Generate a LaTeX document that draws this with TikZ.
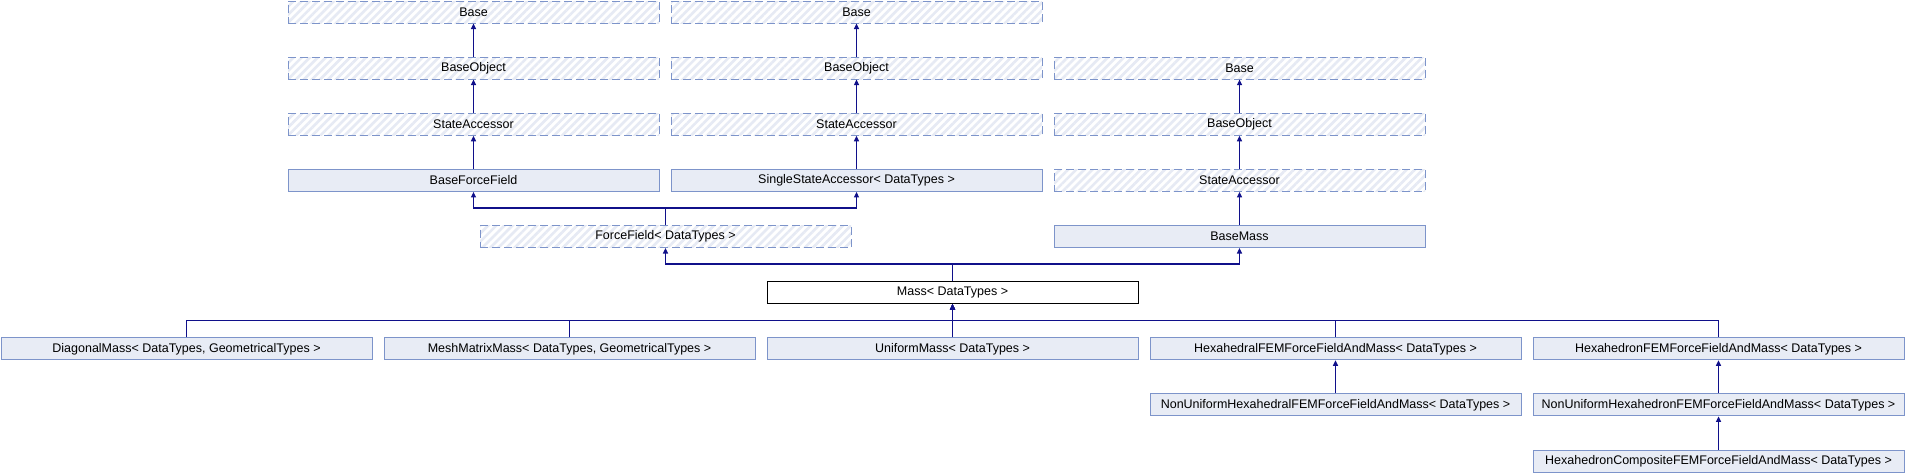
\documentclass[tikz,border=0pt]{standalone}
\usepackage{fontspec}
\setmainfont{Liberation Sans}
\usetikzlibrary{arrows.meta,patterns.meta}
\definecolor{boxfill}{HTML}{E8ECF5}
\definecolor{boxline}{HTML}{7D94CA}
\definecolor{hatch}{HTML}{E6EAF4}
\definecolor{conncol}{HTML}{10108A}
\tikzset{
  hatchfill/.style={pattern={Lines[angle=45,distance=5.7pt,line width=2.6pt]}, pattern color=hatch},
  cls/.style={draw=boxline, line width=1pt, fill=boxfill, minimum width=371pt, minimum height=22pt, inner sep=0pt, anchor=north west, font=\fontsize{12.5}{15}\selectfont},
  ext/.style={cls, fill=none, dash pattern=on 8pt off 4pt, hatchfill},
  cur/.style={cls, draw=black, fill=white},
  arr/.style={draw=conncol, line width=1.2pt, -{Triangle[length=5.5pt,width=5pt]}},
}
\begin{document}
\begin{tikzpicture}[x=1pt,y=-1pt]
\path[fill=white] (0,0) rectangle (1905,472);
\path[hatchfill] (0,0) rectangle (0.01,0.01);
\useasboundingbox (0,0) rectangle (1905,472);
% rows
\node[ext] (b1)  at (287.5,0.5)   {Base};
\node[ext] (b2)  at (670.5,0.5)   {Base};
\node[ext] (bo1) at (287.5,56.6)  {BaseObject};
\node[ext] (bo2) at (670.5,56.6)  {BaseObject};
\node[ext] (b3)  at (1053.5,56.6) {Base};
\node[ext] (sa1) at (287.5,112.8) {StateAccessor};
\node[ext] (sa2) at (670.5,112.8) {StateAccessor};
\node[ext] (bo3) at (1053.5,112.8) {BaseObject};
\node[cls] (bff) at (287.5,168.9) {BaseForceField};
\node[cls] (ssa) at (670.5,168.9) {SingleStateAccessor< DataTypes >};
\node[ext] (sa3) at (1053.5,168.9) {StateAccessor};
\node[ext] (ff)  at (479.5,225.0) {ForceField< DataTypes >};
\node[cls] (bm)  at (1053.5,225.0) {BaseMass};
\node[cur] (mass) at (766.5,281.1) {Mass< DataTypes >};
\node[cls] (dm)  at (0.5,337.3)    {DiagonalMass< DataTypes, GeometricalTypes >};
\node[cls] (mmm) at (383.5,337.3)  {MeshMatrixMass< DataTypes, GeometricalTypes >};
\node[cls] (um)  at (766.5,337.3)  {UniformMass< DataTypes >};
\node[cls] (hl)  at (1149.5,337.3) {HexahedralFEMForceFieldAndMass< DataTypes >};
\node[cls] (hn)  at (1532.5,337.3) {HexahedronFEMForceFieldAndMass< DataTypes >};
\node[cls] (nhl) at (1149.5,393.4) {NonUniformHexahedralFEMForceFieldAndMass< DataTypes >};
\node[cls] (nhn) at (1532.5,393.4) {NonUniformHexahedronFEMForceFieldAndMass< DataTypes >};
\node[cls] (hc)  at (1532.5,449.5) {HexahedronCompositeFEMForceFieldAndMass< DataTypes >};
% junction levels
\coordinate (j1) at (0,208);
\coordinate (j2) at (0,264);
\coordinate (j3) at (0,320.5);
% straight chains
\draw[arr] (bo1.north) -- (b1.south);
\draw[arr] (sa1.north) -- (bo1.south);
\draw[arr] (bff.north) -- (sa1.south);
\draw[arr] (bo2.north) -- (b2.south);
\draw[arr] (sa2.north) -- (bo2.south);
\draw[arr] (ssa.north) -- (sa2.south);
\draw[arr] (bo3.north) -- (b3.south);
\draw[arr] (sa3.north) -- (bo3.south);
\draw[arr] (bm.north) -- (sa3.south);
% ForceField parents
\draw[arr] (ff.north) |- (j1 -| bff.south) -- (bff.south);
\draw[arr] (ff.north) |- (j1 -| ssa.south) -- (ssa.south);
% Mass parents
\draw[arr] (mass.north) |- (j2 -| ff.south) -- (ff.south);
\draw[arr] (mass.north) |- (j2 -| bm.south) -- (bm.south);
% Mass children
\draw[arr] (dm.north) |- (j3 -| mass.south) -- (mass.south);
\draw[arr] (mmm.north) |- (j3 -| mass.south) -- (mass.south);
\draw[arr] (um.north) -- (mass.south);
\draw[arr] (hl.north) |- (j3 -| mass.south) -- (mass.south);
\draw[arr] (hn.north) |- (j3 -| mass.south) -- (mass.south);
% Hexa chains
\draw[arr] (nhl.north) -- (hl.south);
\draw[arr] (nhn.north) -- (hn.south);
\draw[arr] (hc.north) -- (nhn.south);
\end{tikzpicture}
\end{document}
